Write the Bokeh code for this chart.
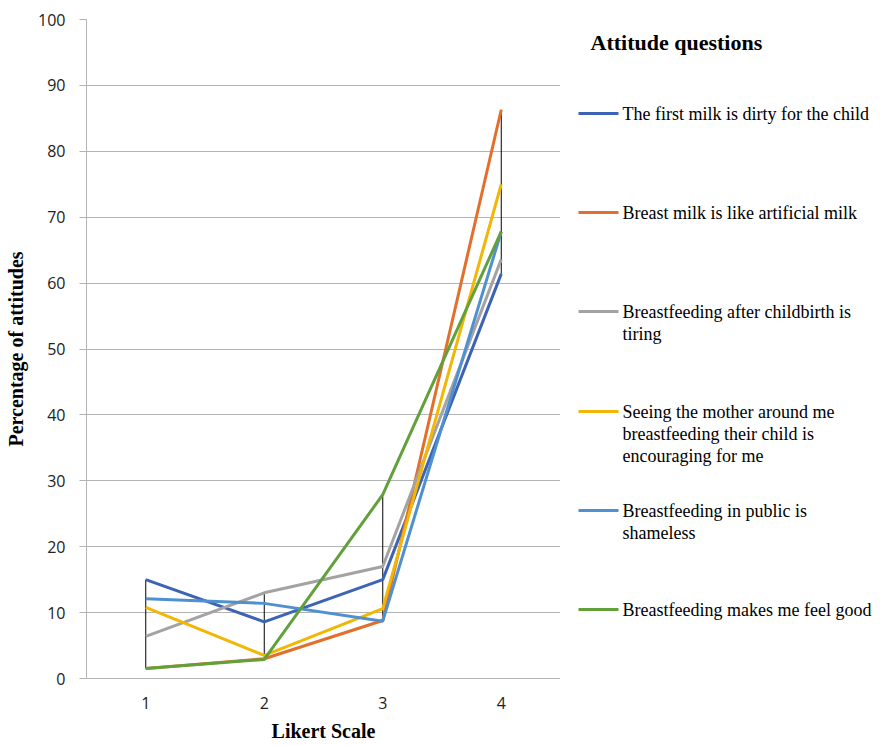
from bokeh.plotting import figure
from bokeh.layouts import row
from bokeh.models import FixedTicker, Range1d
from bokeh.core.properties import value
from bokeh.embed import file_html
from bokeh.resources import INLINE

likert = [1, 2, 3, 4]
series_names = [
    "The first milk is dirty for the child",
    "Breast milk is like artificial milk",
    "Breastfeeding after childbirth is tiring",
    "Seeing the mother around me breastfeeding their child is encouraging for me",
    "Breastfeeding in public is shameless",
    "Breastfeeding makes me feel good",
]
legend_lines = [
    ["The first milk is dirty for the child"],
    ["Breast milk is like artificial milk"],
    ["Breastfeeding after childbirth is", "tiring"],
    ["Seeing the mother around me", "breastfeeding their child is", "encouraging for me"],
    ["Breastfeeding in public is", "shameless"],
    ["Breastfeeding makes me feel good"],
]
first_milk_dirty = [15.0, 8.6, 15.0, 61.4]
like_artificial = [1.5, 3.0, 8.8, 86.3]
after_childbirth_tiring = [6.4, 13.0, 17.0, 63.6]
seeing_mothers_encouraging = [10.8, 3.5, 10.6, 75.0]
public_shameless = [12.1, 11.4, 8.7, 67.8]
makes_feel_good = [1.5, 2.9, 27.9, 67.8]
series_values = [first_milk_dirty, like_artificial, after_childbirth_tiring,
                 seeing_mothers_encouraging, public_shameless, makes_feel_good]
colors = ["#3d64b4", "#e2702c", "#a3a3a3", "#f2b705", "#4f90d0", "#62a03c"]
y_ticks = list(range(0, 101, 10))

SERIF = value("Liberation Serif")

p = figure(width=560, height=745, output_backend="svg", toolbar_location=None,
           x_range=Range1d(0.5, 4.5), y_range=Range1d(0, 100),
           min_border_left=86, min_border_right=0, min_border_top=19, min_border_bottom=67)
p.outline_line_color = None
p.background_fill_color = "white"
p.border_fill_color = "white"

p.xgrid.grid_line_color = None
p.ygrid.grid_line_color = "#b3b3b3"
p.ygrid.grid_line_width = 1
p.yaxis.ticker = FixedTicker(ticks=y_ticks)
p.xaxis.ticker = FixedTicker(ticks=likert)

for ax in (p.xaxis, p.yaxis):
    ax.axis_line_color = "#b3b3b3"
    ax.minor_tick_line_color = None
    ax.major_label_text_font = "Open Sans"
    ax.major_label_text_font_size = "16px"
    ax.major_label_text_color = "#222222"
    ax.axis_label_text_font = "Liberation Serif"
    ax.axis_label_text_font_style = "bold"
    ax.axis_label_text_font_size = "20px"
    ax.axis_label_text_color = "black"

p.yaxis.major_tick_line_color = "#b3b3b3"
p.yaxis.major_tick_out = 7
p.yaxis.major_tick_in = 0
p.yaxis.major_label_standoff = 14
p.xaxis.major_tick_line_color = None
p.xaxis.major_label_standoff = 12
p.yaxis.axis_label = "Percentage of attitudes"
p.xaxis.axis_label = "Likert Scale"
p.yaxis.axis_label_standoff = 8
p.xaxis.axis_label_standoff = 8

# high-low lines
lows = [min(s[i] for s in series_values) for i in range(len(likert))]
highs = [max(s[i] for s in series_values) for i in range(len(likert))]
p.segment(x0=likert, y0=lows, x1=likert, y1=highs, line_color="black", line_width=1)

for vals, col in zip(series_values, colors):
    p.line(likert, vals, line_color=col, line_width=3)

# legend panel (frame aligned with the main plot frame: page y 19..678)
lg = figure(width=326, height=745, output_backend="svg", toolbar_location=None,
            x_range=Range1d(0, 326), y_range=Range1d(678, 19),
            min_border=0)
lg.axis.visible = False
lg.grid.visible = False
lg.outline_line_color = None
lg.text(x=[30], y=[42], text=["Attitude questions"], text_font=SERIF,
        text_font_style="bold", text_font_size="22px", text_baseline="middle",
        text_color="black")
item_y = [113, 212, 311, 411, 510, 609]
line_gap = 22
for lines, col, yy in zip(legend_lines, colors, item_y):
    lg.segment(x0=[18], y0=[yy], x1=[58], y1=[yy], line_color=col, line_width=3)
    lg.text(x=[62] * len(lines), y=[yy + k * line_gap for k in range(len(lines))],
            text=lines, text_font=SERIF, text_font_size="18px",
            text_baseline="middle", text_color="black")

layout = row(p, lg, spacing=0)
open("out.html", "w").write(file_html(layout, INLINE))
